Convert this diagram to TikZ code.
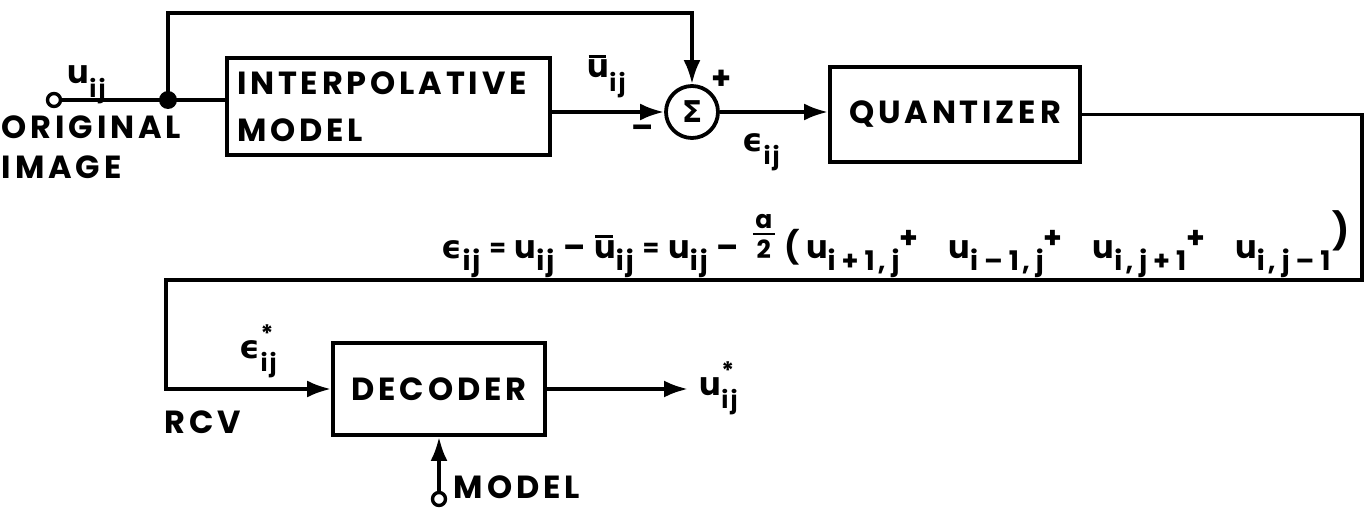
\documentclass[tikz,border=0pt]{standalone}
\usepackage{fontspec}
\setmainfont{Poppins}[LetterSpace=12]
\newfontfamily\grfont{DejaVu Sans}
\usetikzlibrary{arrows.meta,calc}
\newcommand\eps{{\grfont\bfseries ϵ}}
\newcommand\lo[1]{\raisebox{-0.42em}{\fontsize{24}{24}\selectfont #1}}
\newcommand\hi[1]{\raisebox{0.5em}{\fontsize{24}{24}\selectfont #1}}
\newcommand\qsub[1]{\raisebox{-0.4em}{\fontsize{27}{27}\selectfont #1}}
\newcommand\qplus{\raisebox{0.3em}{\fontsize{30}{30}\selectfont +}}
\newcommand\st[2]{\makebox[0pt][l]{\hi{#1}}\lo{#2}}
\newcommand\ub{\makebox[0pt][l]{\hspace{0.02em}\rule[0.62em]{0.55em}{3pt}}u}
\newcommand\eqs{\raisebox{0.05em}{\fontsize{24}{24}\selectfont =}}
\newcommand\gp{\hspace{2pt}}
\newcommand\gq{\hspace{6pt}}
\begin{document}
\begin{tikzpicture}[x=1pt,y=-1pt,line width=3.8pt,
  >={Latex[length=24pt,width=17pt]},
  lbl/.style={inner sep=0pt,font=\fontsize{32}{38}\selectfont\bfseries},
  frac/.style={inner sep=0pt,font=\fontsize{25}{25}\selectfont\bfseries},
  box/.style={draw,rectangle,inner sep=0pt,font=\fontsize{32}{47}\selectfont\bfseries},
  port/.style={draw,circle,fill=white,minimum size=13pt,inner sep=0pt,line width=3.4pt}]
\useasboundingbox (0,0) rectangle (1365,508);
% blocks
\node[box,minimum width=323pt,minimum height=97pt,align=left,text width=303pt] (interp) at (388.5,106.5) {INTERPOLATIVE\\MODEL};
\node[box,minimum width=250pt,minimum height=95pt] (quant) at (955,114.5) {QUANTIZER};
\node[box,minimum width=212pt,minimum height=92pt] (dec) at (439,389) {DECODER};
\node[draw,circle,minimum size=52pt,inner sep=0pt] (sum) at (692,112) {\grfont\bfseries\fontsize{30}{30}\selectfont Σ};
\node[port] (in) at (54,100) {};
\node[circle,fill,minimum size=18pt,inner sep=0pt] (junc) at (168,100) {};
\node[port] (min) at (439,499) {};
\coordinate (top) at (168,13);
\coordinate (r1) at (1362,280);
\coordinate (l1) at (166,280);
\coordinate (out) at (688,389);
% connectors
\draw (in) -- (junc.center) -- (junc.center -| interp.west);
\draw[->] (junc.center) -- (top) -| (sum.north);
\draw[->] (interp.east |- sum.west) -- (sum.west);
\draw[->] (sum.east) -- (sum.east -| quant.west);
\draw[->] (quant.east) -| (r1) -- (l1) |- (dec.west);
\draw[->] (dec.east) -- (out);
\draw[->] (min) -- (dec.south);
% labels
\node[lbl,anchor=base west] (luin) at (66,84) {u\lo{i\gp j}};
\node[lbl,anchor=base west] (lorig) at (0,139) {ORIGINAL};
\node[lbl,anchor=base west] (limg) at (0,178) {IMAGE};
\node[lbl,anchor=base west] (lubar) at (586,78) {\ub\lo{i\gp j}};
\node[lbl] (lplus) at (722,80) {+};
\node[lbl] (lminus) at (643,132) {–};
\node[lbl,anchor=base west] (leps) at (741,151) {\eps\lo{i\gp j}};
\node[lbl,anchor=base west] (lepsst) at (238,358) {\eps\st{*}{i\gp j}};
\node[lbl,anchor=base west] (lust) at (698,395) {u\st{*}{i\gp j}};
\node[lbl,anchor=base west] (lrcv) at (163,433) {RCV};
\node[lbl,anchor=base west] (lmodel) at (452,498) {MODEL};
% equation
\node[lbl,anchor=base west] (eq1) at (440,258) {\makebox[297pt][s]{\eps\qsub{i\gp j}\hfil\eqs\hfil u\qsub{i\gp j}\hfil–\hfil\ub\qsub{i\gp j}\hfil\eqs\hfil u\qsub{i\gp j}\hfil–}};
\node[frac,anchor=base west] (f2) at ([xshift=14pt]eq1.base east) {2};
\node[frac,anchor=south] (fa) at ([yshift=7pt]f2.north) {a};
\draw[line width=2.8pt] ([xshift=-2pt,yshift=3.5pt]f2.north west) -- ([xshift=2pt,yshift=3.5pt]f2.north east);
\node[lbl,anchor=base west] (eq2) at ([xshift=10pt]f2.base east) {\makebox[565pt][s]{(\hspace{6pt}u\qsub{i\gq+\gq1,\gq j}\qplus\hfil u\qsub{i\gq–\gq1,\gq j}\qplus\hfil u\qsub{i,\gq j\gq+\gq1}\qplus\hfil u\qsub{i,\gq j\gq–\gq1}\hspace{2pt}\raisebox{0.45em}{\fontsize{36}{36}\selectfont )}}};
\end{tikzpicture}
\end{document}
